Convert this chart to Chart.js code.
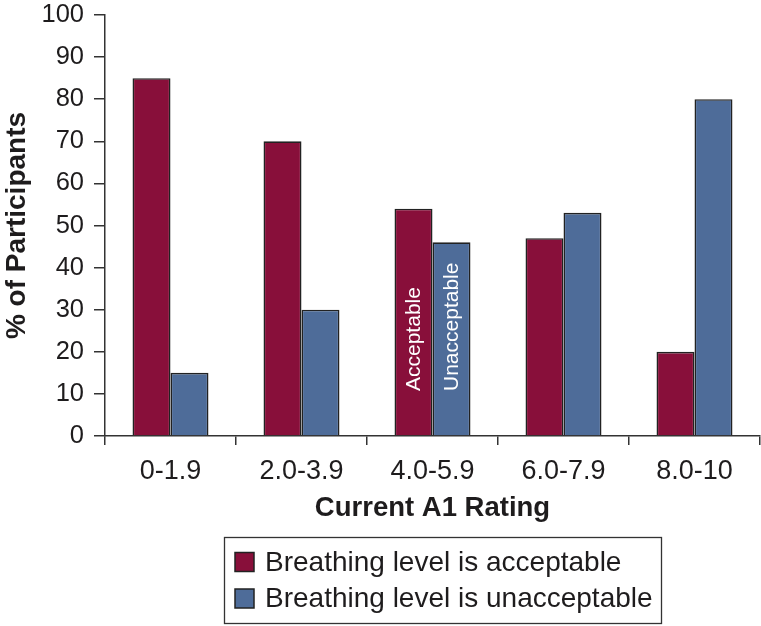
<!DOCTYPE html>
<html>
<head>
<meta charset="utf-8">
<script src="https://cdn.jsdelivr.net/npm/chart.js@4/dist/chart.umd.min.js"></script>
<style>
  html, body { margin: 0; padding: 0; background: #ffffff; }
  canvas { display: block; }
</style>
</head>
<body>
<canvas id="c" width="761" height="626"></canvas>
<script>
// ---- data ----
const categories = ["0-1.9", "2.0-3.9", "4.0-5.9", "6.0-7.9", "8.0-10"];
const acceptable = [85, 70, 54, 47, 20];
const unacceptable = [15, 30, 46, 53, 80];
const seriesLabels = ["Breathing level is acceptable", "Breathing level is unacceptable"];
const barNotes = ["Acceptable", "Unacceptable"];   // written inside the bars of one category
const noteCategoryIndex = 2;
const yTickMin = 0, yTickMax = 100, yTickStep = 10;
const xTitle = "Current A1 Rating";
const yTitle = "% of Participants";

// ---- styles ----
const FONT = "'Liberation Sans', Arial, Helvetica, sans-serif";
const maroon = "#880f3a";
const blue = "#4e6c99";
const edge = "#222222";
const textColor = "#1e1c1d";

const legendBoxPlugin = {
  id: "legendBox",
  afterDraw(chart) {
    const ctx = chart.ctx;
    const bx = 224.5, by = 537.5, bw = 437, bh = 86;
    ctx.save();
    ctx.strokeStyle = "#333333";
    ctx.lineWidth = 1.3;
    ctx.strokeRect(bx, by, bw, bh);
    ctx.font = "28px " + FONT;
    ctx.textBaseline = "middle";
    ctx.textAlign = "left";
    chart.data.datasets.forEach((ds, i) => {
      const cy = 562 + i * 36.5;
      const s = 19;
      ctx.fillStyle = ds.backgroundColor;
      ctx.fillRect(235, cy - s / 2, s, s);
      ctx.strokeStyle = edge;
      ctx.lineWidth = 1.5;
      ctx.strokeRect(235, cy - s / 2, s, s);
      ctx.fillStyle = textColor;
      ctx.fillText(ds.label, 265, cy + 1);
    });
    ctx.restore();
  }
};

const barNotePlugin = {
  id: "barNotes",
  afterDatasetsDraw(chart) {
    const ctx = chart.ctx;
    const y0 = chart.scales.y.getPixelForValue(0);
    ctx.save();
    ctx.font = "21px " + FONT;
    ctx.fillStyle = "#ffffff";
    ctx.textBaseline = "middle";
    ctx.textAlign = "left";
    barNotes.forEach((txt, i) => {
      const bar = chart.getDatasetMeta(i).data[noteCategoryIndex];
      ctx.save();
      ctx.translate(bar.x + 1, y0 - 45);
      ctx.rotate(-Math.PI / 2);
      ctx.fillText(txt, 0, 0);
      ctx.restore();
    });
    ctx.restore();
  }
};

new Chart(document.getElementById("c"), {
  type: "bar",
  data: {
    labels: categories,
    datasets: [
      { label: seriesLabels[0], data: acceptable, backgroundColor: maroon, borderColor: edge, borderWidth: 1.6 },
      { label: seriesLabels[1], data: unacceptable, backgroundColor: blue, borderColor: edge, borderWidth: 1.6 }
    ]
  },
  options: {
    responsive: false,
    animation: false,
    devicePixelRatio: 1,
    categoryPercentage: 0.58,
    barPercentage: 1.0,
    layout: { padding: { top: 15, right: 1, left: 0, bottom: 90 } },
    plugins: {
      legend: { display: false },
      tooltip: { enabled: false }
    },
    scales: {
      x: {
        grid: { display: true, drawOnChartArea: false, drawTicks: true, tickLength: 9, color: "#333333", lineWidth: 1.5 },
        border: { display: true, color: "#333333", width: 1.5 },
        ticks: { color: textColor, font: { family: FONT, size: 27 }, padding: 10, maxRotation: 0 },
        title: { display: true, text: xTitle, color: textColor, font: { family: FONT, size: 27.5, weight: "bold" }, padding: { top: 0, bottom: 11 } },
        afterFit(scale) { scale.height = 100; scale.paddingLeft = 0; scale.paddingRight = 0; }
      },
      y: {
        min: yTickMin, max: yTickMax,
        grid: { display: true, drawOnChartArea: false, drawTicks: true, tickLength: 11, color: "#333333", lineWidth: 1.5 },
        border: { display: true, color: "#333333", width: 1.5 },
        ticks: { stepSize: yTickStep, color: textColor, font: { family: FONT, size: 25.5 }, padding: 10 },
        title: { display: true, text: yTitle, color: textColor, font: { family: FONT, size: 28, weight: "bold" }, padding: { top: 0, bottom: 0 } },
        afterFit(scale) { scale.width = 105; scale.paddingTop = 0; scale.paddingBottom = 0; }
      }
    }
  },
  plugins: [barNotePlugin, legendBoxPlugin]
});
</script>
</body>
</html>
